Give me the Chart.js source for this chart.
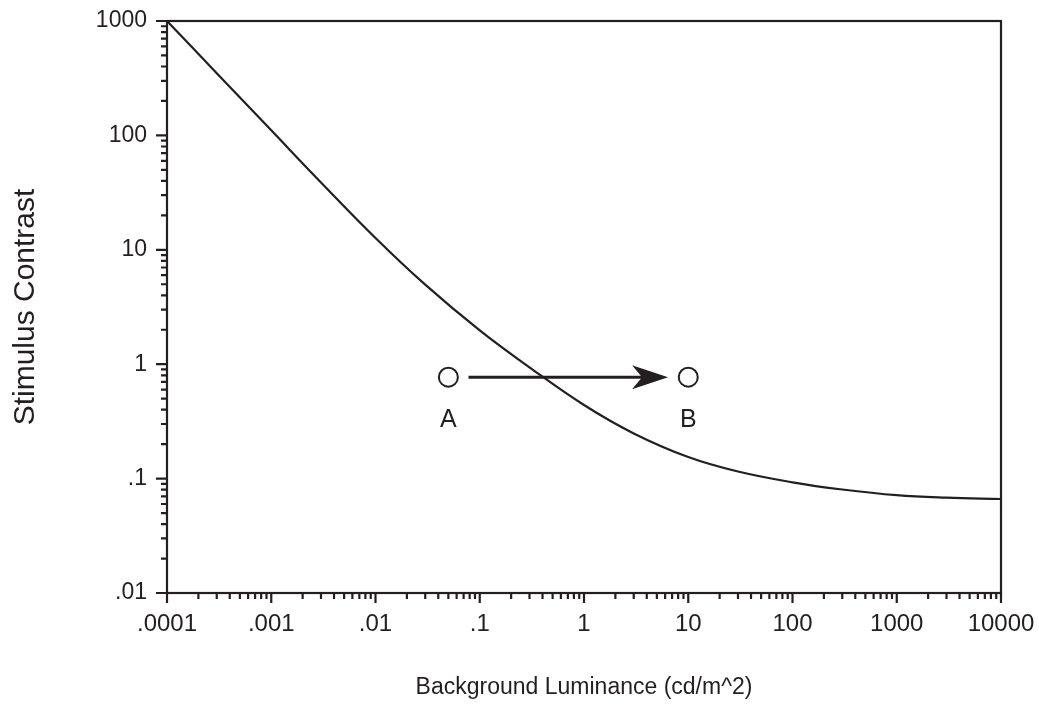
<!DOCTYPE html>
<html>
<head>
<meta charset="utf-8">
<script src="https://cdn.jsdelivr.net/npm/chart.js"></script>
<style>
  html, body { margin: 0; padding: 0; background: #fff; }
  #wrap { width: 1039px; height: 713px; }
</style>
</head>
<body>
<div id="wrap"><canvas id="contrast-chart"></canvas></div>
<script>
// threshold curve
const luminance = [0.0001, 0.0003, 0.001, 0.003, 0.01, 0.03, 0.1, 0.3, 1, 3, 10, 30, 100, 300, 1000, 3000, 10000];
const contrast  = [1000, 350, 110.8, 38.8, 12.7, 4.96, 1.975, 0.939, 0.44, 0.2484, 0.1544, 0.1153, 0.0928, 0.0803, 0.0716, 0.0681, 0.0663];

// the two stimuli and the arrow between them
const stimulusNames = ['A', 'B'];
const stimulusLuminance = [0.05, 10];
const stimulusContrast = [0.77, 0.77];
const arrowFrom = [0.078, 0.77];
const arrowTo = [6.4, 0.77];

const xTickValues = [0.0001, 0.001, 0.01, 0.1, 1, 10, 100, 1000, 10000];
const xTickLabels = ['.0001', '.001', '.01', '.1', '1', '10', '100', '1000', '10000'];
const yTickValues = [0.01, 0.1, 1, 10, 100, 1000];
const yTickLabels = ['.01', '.1', '1', '10', '100', '1000'];

const ink = '#231f20';
const family = "'Liberation Sans', Arial, Helvetica, sans-serif";

function labelFor(values, labels) {
  return v => {
    const i = values.findIndex(t => Math.abs(Math.log10(t) - Math.log10(v)) < 1e-6);
    return i >= 0 ? labels[i] : '';
  };
}

// frame, tick marks, arrow and point letters
const decorations = {
  id: 'decorations',
  afterDraw(chart) {
    const { ctx, chartArea: a, scales } = chart;
    const xs = scales.x, ys = scales.y;
    ctx.save();
    ctx.strokeStyle = ink;
    ctx.fillStyle = ink;
    ctx.lineWidth = 2.2;
    ctx.strokeRect(a.left, a.top, a.right - a.left, a.bottom - a.top);

    ctx.beginPath();
    xTickValues.forEach((d, i) => {
      const px = xs.getPixelForValue(d);
      ctx.moveTo(px, a.bottom); ctx.lineTo(px, a.bottom + 10);
      if (i < xTickValues.length - 1) {
        for (let m = 2; m <= 9; m++) {
          const mx = xs.getPixelForValue(d * m);
          ctx.moveTo(mx, a.bottom); ctx.lineTo(mx, a.bottom + 6);
        }
      }
    });
    yTickValues.forEach((d, i) => {
      const py = ys.getPixelForValue(d);
      ctx.moveTo(a.left, py); ctx.lineTo(a.left - 11, py);
      if (i < yTickValues.length - 1) {
        for (let m = 2; m <= 9; m++) {
          const my = ys.getPixelForValue(d * m);
          ctx.moveTo(a.left, my); ctx.lineTo(a.left - 6, my);
        }
      }
    });
    ctx.stroke();

    // arrow A -> B
    const x0 = xs.getPixelForValue(arrowFrom[0]), y0 = ys.getPixelForValue(arrowFrom[1]);
    const x1 = xs.getPixelForValue(arrowTo[0]), y1 = ys.getPixelForValue(arrowTo[1]);
    ctx.lineWidth = 3;
    ctx.beginPath();
    ctx.moveTo(x0, y0);
    ctx.lineTo(x1 - 20, y1);
    ctx.stroke();
    ctx.beginPath();
    ctx.moveTo(x1, y1);
    ctx.lineTo(x1 - 36, y1 - 12);
    ctx.lineTo(x1 - 26, y1);
    ctx.lineTo(x1 - 36, y1 + 12);
    ctx.closePath();
    ctx.fill();

    ctx.font = '25px ' + family;
    ctx.textAlign = 'center';
    ctx.textBaseline = 'middle';
    stimulusNames.forEach((n, i) => {
      const px = xs.getPixelForValue(stimulusLuminance[i]);
      const py = ys.getPixelForValue(stimulusContrast[i]);
      ctx.fillText(n, px, py + 43);
    });
    ctx.restore();
  }
};

const ctx = document.getElementById('contrast-chart').getContext('2d');

new Chart(ctx, {
  type: 'scatter',
  data: {
    datasets: [
      {
        type: 'line',
        data: luminance.map((x, i) => ({ x, y: contrast[i] })),
        borderColor: ink,
        borderWidth: 2.2,
        pointRadius: 0,
        tension: 0.4,
        fill: false,
        clip: 4
      },
      {
        data: stimulusLuminance.map((x, i) => ({ x, y: stimulusContrast[i] })),
        pointStyle: 'circle',
        pointRadius: 9.5,
        pointBorderWidth: 2,
        borderColor: ink,
        backgroundColor: '#fff'
      }
    ]
  },
  options: {
    responsive: true,
    maintainAspectRatio: false,
    animation: false,
    events: [],
    layout: { padding: { left: 0, top: 21, right: 38, bottom: 0 } },
    plugins: { legend: { display: false }, tooltip: { enabled: false } },
    scales: {
      x: {
        type: 'logarithmic',
        min: 0.0001,
        max: 10000,
        afterBuildTicks: s => { s.ticks = xTickValues.map(v => ({ value: v, major: true })); },
        afterFit: s => { s.height = 120; s.paddingLeft = 0; s.paddingRight = 0; },
        grid: { drawOnChartArea: false, tickLength: 10, tickColor: 'rgba(0,0,0,0)' },
        border: { display: false },
        ticks: {
          autoSkip: false,
          maxRotation: 0,
          padding: 7,
          color: ink,
          font: { family, size: 24 },
          callback: labelFor(xTickValues, xTickLabels)
        },
        title: {
          display: true,
          text: 'Background Luminance (cd/m^2)',
          color: ink,
          font: { family, size: 23 },
          padding: { top: 0, bottom: 12 }
        }
      },
      y: {
        type: 'logarithmic',
        min: 0.01,
        max: 1000,
        afterBuildTicks: s => { s.ticks = yTickValues.map(v => ({ value: v, major: true })); },
        afterFit: s => { s.width = 167; s.paddingTop = 0; s.paddingBottom = 0; },
        grid: { drawOnChartArea: false, tickLength: 10, tickColor: 'rgba(0,0,0,0)' },
        border: { display: false },
        ticks: {
          autoSkip: false,
          padding: 10,
          color: ink,
          font: { family, size: 23 },
          callback: labelFor(yTickValues, yTickLabels)
        },
        title: {
          display: true,
          text: 'Stimulus Contrast',
          color: ink,
          font: { family, size: 30 },
          padding: { top: 8, bottom: 0 }
        }
      }
    }
  },
  plugins: [decorations]
});
</script>
</body>
</html>
